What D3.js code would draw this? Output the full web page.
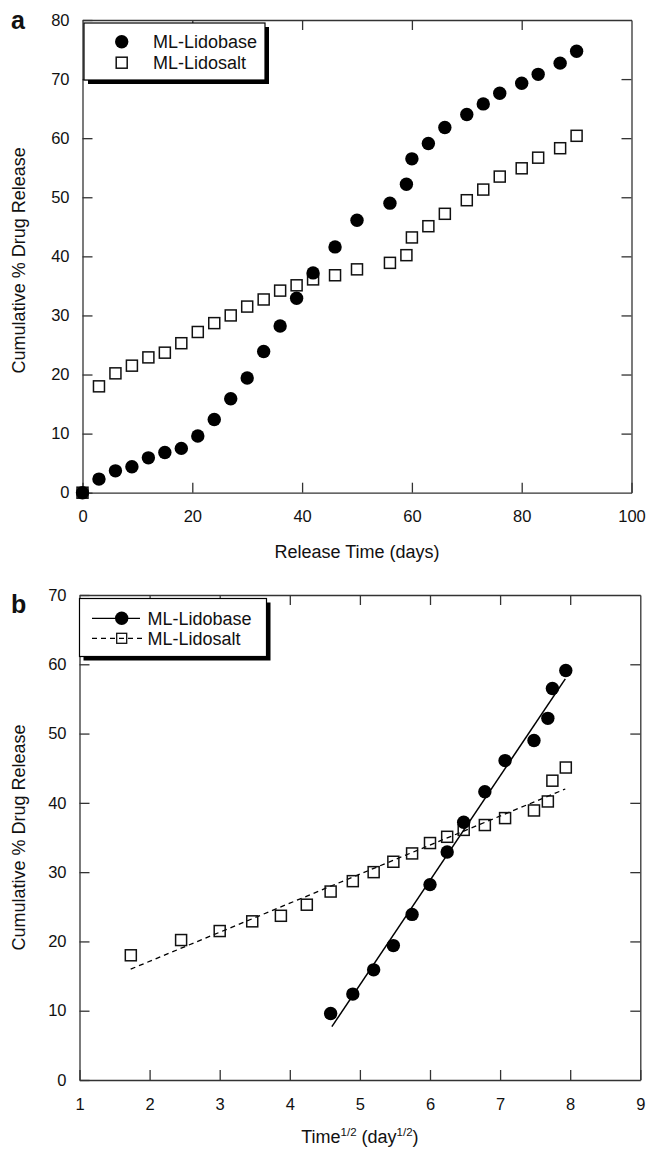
<!DOCTYPE html>
<html>
<head>
<meta charset="utf-8">
<script src="https://cdn.jsdelivr.net/npm/d3@7"></script>
<style>
  body { margin: 0; background: white; }
  svg text { font-family: "Liberation Sans", Arial, sans-serif; fill: #111; }
</style>
</head>
<body>
<div id="chart"></div>
<script>
// release times (days) and cumulative % release
const days = [0,3,6,9,12,15,18,21,24,27,30,33,36,39,42,46,50,56,59,60,63,66,70,73,76,80,83,87,90]
const lidobase = [0,2.3,3.7,4.4,5.9,6.8,7.5,9.6,12.4,15.9,19.4,23.9,28.2,32.9,37.2,41.6,46.1,49.0,52.2,56.5,59.1,61.8,64.0,65.8,67.6,69.3,70.8,72.7,74.7]
const lidosalt = [0,18.0,20.2,21.5,22.9,23.7,25.3,27.2,28.7,30.0,31.5,32.7,34.2,35.1,36.1,36.8,37.8,38.9,40.2,43.2,45.1,47.2,49.5,51.3,53.5,54.9,56.7,58.3,60.4]

// panel b: which days are shown against sqrt(time)
const baseDaysB = [21,24,27,30,33,36,39,42,46,50,56,59,60,63]
const saltDaysB = [3,6,9,12,15,18,21,24,27,30,33,36,39,42,46,50,56,59,60,63]

// fitted lines in panel b (end points)
const baseFitX = [4.6, 7.93]
const baseFitY = [7.7, 57.9]
const saltFitX = [1.73, 7.93]
const saltFitY = [16.0, 42.0]

const aXTicks = [0,20,40,60,80,100]
const aYTicks = [0,10,20,30,40,50,60,70,80]
const bXTicks = [1,2,3,4,5,6,7,8,9]
const bYTicks = [0,10,20,30,40,50,60,70]

const seriesNames = ["ML-Lidobase", "ML-Lidosalt"]

const svg = d3.select("#chart").append("svg")
    .attr("width", 648)
    .attr("height", 1157)

const R = 6.7, SQ = 11

function drawFrame(x, y, xt, yt, tickPad) {
    const [x0, x1] = x.range()
    const [y0, y1] = y.range()
    const inner = (t) => t.slice(1, -1)

    const axes = [
        svg.append("g").attr("transform", `translate(0,${y0})`)
            .call(d3.axisBottom(x).tickValues(xt).tickSizeInner(-10).tickSizeOuter(0).tickPadding(tickPad)),
        svg.append("g").attr("transform", `translate(${x0},0)`)
            .call(d3.axisLeft(y).tickValues(yt).tickSizeInner(-10).tickSizeOuter(0).tickPadding(13)),
        svg.append("g").attr("transform", `translate(0,${y1})`)
            .call(d3.axisTop(x).tickValues(inner(xt)).tickSizeInner(-10).tickSizeOuter(0).tickFormat("")),
        svg.append("g").attr("transform", `translate(${x1},0)`)
            .call(d3.axisRight(y).tickValues(inner(yt)).tickSizeInner(-10).tickSizeOuter(0).tickFormat(""))
    ]
    axes.forEach(g => {
        g.select(".domain").attr("stroke", "#333").attr("stroke-width", 1.3)
        g.selectAll(".tick line").attr("stroke", "#333").attr("stroke-width", 1.3)
        g.selectAll(".tick text").style("font-size", "16.5px").attr("fill", "#111")
    })
}

function circles(x, y, xs, ys) {
    svg.append("g").selectAll("circle")
        .data(xs.map((d, i) => [d, ys[i]]))
        .join("circle")
        .attr("cx", d => x(d[0]))
        .attr("cy", d => y(d[1]))
        .attr("r", R)
        .attr("fill", "black")
}

function squares(x, y, xs, ys, fill) {
    svg.append("g").selectAll("rect")
        .data(xs.map((d, i) => [d, ys[i]]))
        .join("rect")
        .attr("x", d => x(d[0]) - SQ / 2)
        .attr("y", d => y(d[1]) - SQ / 2)
        .attr("width", SQ)
        .attr("height", SQ)
        .attr("fill", fill)
        .attr("stroke", "#111")
        .attr("stroke-width", 1.5)
}

function legendBox(x, y, w, h) {
    svg.append("rect").attr("x", x + 4).attr("y", y + 4).attr("width", w).attr("height", h).attr("fill", "black")
    svg.append("rect").attr("x", x).attr("y", y).attr("width", w).attr("height", h)
        .attr("fill", "white").attr("stroke", "black").attr("stroke-width", 1.2)
}

// ---------- panel a ----------
const xA = d3.scaleLinear().domain([0, 100]).range([82.5, 631.5])
const yA = d3.scaleLinear().domain([0, 80]).range([492.7, 20])

drawFrame(xA, yA, aXTicks, aYTicks, 18)
squares(xA, yA, days, lidosalt, "white")
circles(xA, yA, days, lidobase)

svg.append("text").attr("x", xA(50)).attr("y", 558)
    .attr("text-anchor", "middle").style("font-size", "18px")
    .text("Release Time (days)")
svg.append("text").attr("transform", `translate(25,${(yA.range()[0] + yA.range()[1]) / 2 + 4}) rotate(-90)`)
    .attr("text-anchor", "middle").style("font-size", "18px")
    .text("Cumulative % Drug Release")
svg.append("text").attr("x", 11).attr("y", 29)
    .style("font-size", "25px").style("font-weight", "bold").text("a")

legendBox(84, 23, 181, 57)
svg.append("circle").attr("cx", 121.7).attr("cy", 41.7).attr("r", R).attr("fill", "black")
svg.append("rect").attr("x", 121.7 - SQ / 2).attr("y", 62.7 - SQ / 2).attr("width", SQ).attr("height", SQ)
    .attr("fill", "white").attr("stroke", "#111").attr("stroke-width", 1.5)
svg.append("g").selectAll("text")
    .data(seriesNames)
    .join("text")
    .attr("x", 153)
    .attr("y", (d, i) => 41.7 + i * 21 + 6.5)
    .style("font-size", "18px")
    .text(d => d)

// ---------- panel b ----------
const xB = d3.scaleLinear().domain([1, 9]).range([79.5, 640.3])
const yB = d3.scaleLinear().domain([0, 70]).range([1080, 595])

drawFrame(xB, yB, bXTicks, bYTicks, 18)

const line = d3.line().x(d => xB(d[0])).y(d => yB(d[1]))
svg.append("path")
    .attr("d", line(saltFitX.map((d, i) => [d, saltFitY[i]])))
    .attr("fill", "none").attr("stroke", "black").attr("stroke-width", 1.3)
    .attr("stroke-dasharray", "5,4")
svg.append("path")
    .attr("d", line(baseFitX.map((d, i) => [d, baseFitY[i]])))
    .attr("fill", "none").attr("stroke", "black").attr("stroke-width", 1.5)

const saltB = saltDaysB.map(d => lidosalt[days.indexOf(d)])
const baseB = baseDaysB.map(d => lidobase[days.indexOf(d)])
squares(xB, yB, saltDaysB.map(Math.sqrt), saltB, "none")
circles(xB, yB, baseDaysB.map(Math.sqrt), baseB)

const xlab = svg.append("text").attr("x", xB(5)).attr("y", 1143)
    .attr("text-anchor", "middle").style("font-size", "18px")
xlab.append("tspan").text("Time")
xlab.append("tspan").attr("dy", -7).style("font-size", "11.5px").text("1/2")
xlab.append("tspan").attr("dy", 7).text(" (day")
xlab.append("tspan").attr("dy", -7).style("font-size", "11.5px").text("1/2")
xlab.append("tspan").attr("dy", 7).text(")")

svg.append("text").attr("transform", `translate(25,${(yB.range()[0] + yB.range()[1]) / 2}) rotate(-90)`)
    .attr("text-anchor", "middle").style("font-size", "18px")
    .text("Cumulative % Drug Release")
svg.append("text").attr("x", 11).attr("y", 613)
    .style("font-size", "25px").style("font-weight", "bold").text("b")

legendBox(79.5, 598.5, 187, 58)
svg.append("line").attr("x1", 92).attr("x2", 140).attr("y1", 618.3).attr("y2", 618.3)
    .attr("stroke", "black").attr("stroke-width", 1.3)
svg.append("circle").attr("cx", 121.7).attr("cy", 618.3).attr("r", R).attr("fill", "black")
svg.append("line").attr("x1", 92).attr("x2", 142).attr("y1", 638.3).attr("y2", 638.3)
    .attr("stroke", "black").attr("stroke-width", 1.3).attr("stroke-dasharray", "5,4")
svg.append("rect").attr("x", 121.7 - 5).attr("y", 638.3 - 5).attr("width", 10).attr("height", 10)
    .attr("fill", "none").attr("stroke", "#111").attr("stroke-width", 1.3)
svg.append("g").selectAll("text")
    .data(seriesNames)
    .join("text")
    .attr("x", 147.5)
    .attr("y", (d, i) => 618.3 + i * 20 + 6.5)
    .style("font-size", "18px")
    .text(d => d)
</script>
</body>
</html>
